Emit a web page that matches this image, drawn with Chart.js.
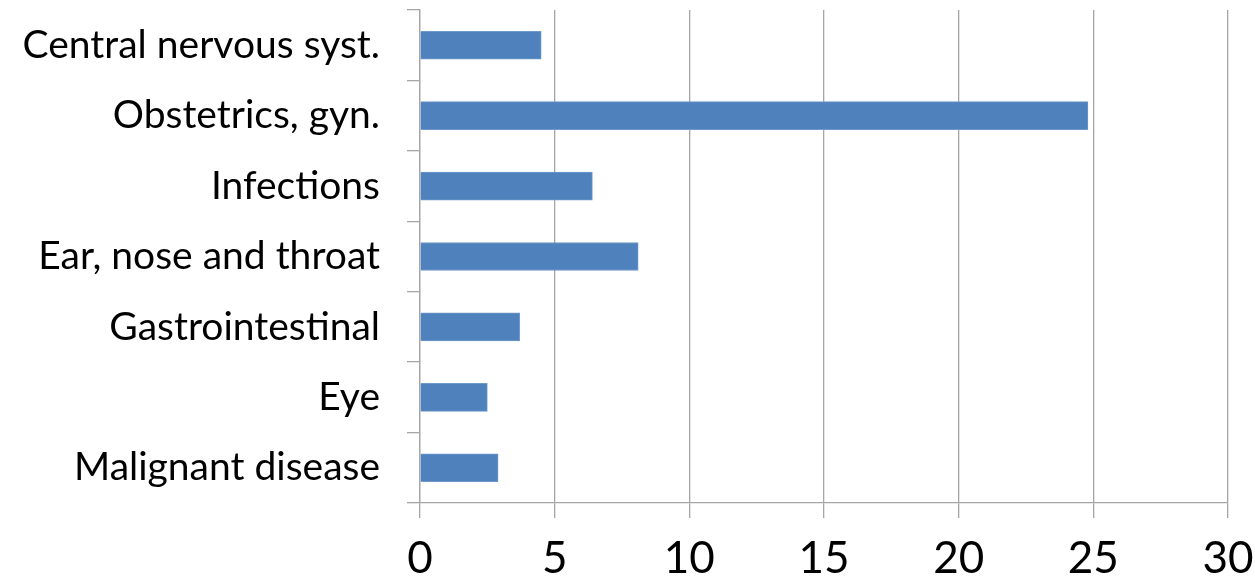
<!DOCTYPE html>
<html>
<head>
<meta charset="utf-8">
<script src="https://cdn.jsdelivr.net/npm/chart.js@4/dist/chart.umd.min.js"></script>
<style>
  html, body { margin: 0; padding: 0; background: #ffffff; }
  #wrap { width: 1255px; height: 581px; position: relative; }
</style>
</head>
<body>
<div id="wrap"><canvas id="chart"></canvas></div>
<script>
// Specialty categories, listed top to bottom
const categories = [
  'Central nervous syst.',
  'Obstetrics, gyn.',
  'Infections',
  'Ear, nose and throat',
  'Gastrointestinal',
  'Eye',
  'Malignant disease'
];
// Value per category
const values = [4.5, 24.8, 6.4, 8.1, 3.7, 2.5, 2.9];
// Value axis ticks
const xTicks = [0, 5, 10, 15, 20, 25, 30];

const gridGray = '#a6a6a6';

new Chart(document.getElementById('chart'), {
  type: 'bar',
  data: {
    labels: categories,
    datasets: [{
      data: values,
      backgroundColor: '#4f81bd',
      borderColor: '#6f98cb',
      borderWidth: 1,
      barThickness: 28
    }]
  },
  options: {
    indexAxis: 'y',
    responsive: true,
    maintainAspectRatio: false,
    animation: false,
    layout: { padding: { top: 10, right: 27, bottom: 0, left: 0 } },
    plugins: {
      legend: { display: false },
      tooltip: { enabled: false }
    },
    scales: {
      x: {
        min: xTicks[0],
        max: xTicks[xTicks.length - 1],
        afterBuildTicks: (scale) => { scale.ticks = xTicks.map(v => ({ value: v })); },
        afterFit: (scale) => {
          scale.height = 78;
          scale.paddingLeft = 0;
          scale.paddingRight = 0;
        },
        grid: {
          color: gridGray,
          lineWidth: 1.3,
          drawTicks: true,
          tickLength: 15
        },
        border: { color: gridGray, width: 1.3 },
        ticks: {
          color: '#000000',
          padding: 14,
          maxRotation: 0,
          font: { family: 'Lato', size: 44 }
        }
      },
      y: {
        afterFit: (scale) => {
          scale.width = 420;
          scale.paddingTop = 0;
          scale.paddingBottom = 0;
        },
        grid: {
          color: gridGray,
          lineWidth: 1.3,
          drawOnChartArea: false,
          drawTicks: true,
          tickLength: 13,
          offset: true
        },
        border: { color: gridGray, width: 1.3 },
        ticks: {
          color: '#000000',
          padding: 27,
          font: { family: 'Lato', size: 39 }
        }
      }
    }
  }
});
</script>
</body>
</html>
